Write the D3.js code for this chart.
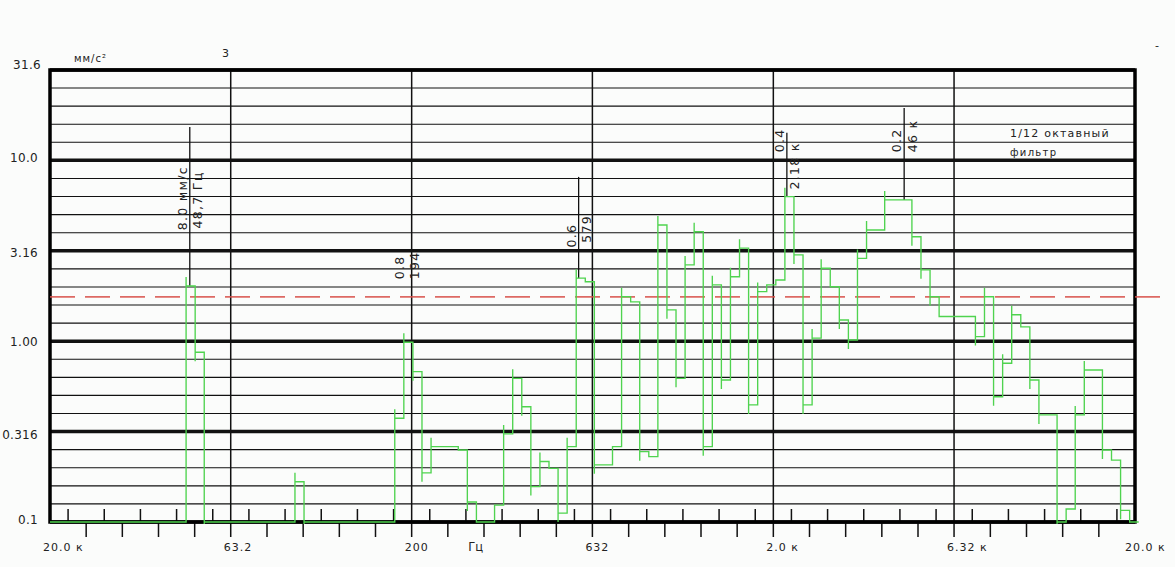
<!DOCTYPE html>
<html>
<head>
<meta charset="utf-8">
<script src="https://cdn.jsdelivr.net/npm/d3@7"></script>
<style>
  body { margin: 0; background: #fbfcfb; }
  svg { display: block; }
  text { font-family: "DejaVu Sans", sans-serif; fill: #222; }
</style>
</head>
<body>
<div id="chart"></div>
<script>
// 1/12 octave band levels (mm/s²), band n covers 20*2^(n/12) .. 20*2^((n+1)/12) Hz
var bandLevels = [
  0.1, 0.1, 0.1, 0.1, 0.1, 0.1, 0.1, 0.1, 0.1, 0.1,      // 0-9
  0.1, 0.1, 0.1, 0.1, 0.1, 2.02, 0.868, 0.1, 0.1, 0.1,   // 10-19
  0.1, 0.1, 0.1, 0.1, 0.1, 0.1, 0.1, 0.167, 0.1, 0.1,    // 20-29
  0.1, 0.1, 0.1, 0.1, 0.1, 0.1, 0.1, 0.1, 0.375, 0.986,  // 30-39
  0.678, 0.187, 0.261, 0.261, 0.261, 0.25, 0.129, 0.1, 0.1, 0.124, // 40-49
  0.307, 0.623, 0.434, 0.157, 0.216, 0.198, 0.112, 0.261, 2.23, 2.13, // 50-59
  0.207, 0.207, 0.261, 1.76, 1.65, 0.245, 0.23, 4.39, 1.49, 0.623,    // 60-69
  2.64, 4.03, 0.261, 2.05, 0.61, 2.27, 3.27, 0.444, 1.88, 2.05,       // 70-79
  2.18, 6.3, 3.0, 0.444, 1.04, 2.53, 2.0, 1.31, 1.015, 2.87,          // 80-89
  4.12, 4.12, 6.04, 6.04, 6.04, 3.78, 2.48, 1.76, 1.37, 1.37,         // 90-99
  1.37, 1.37, 1.06, 1.76, 0.493, 0.755, 1.4, 1.2, 0.61, 0.391,        // 100-109
  0.391, 0.1, 0.118, 0.391, 0.693, 0.693, 0.25, 0.22, 0.116, 0.1      // 110-119
];

var threshold = 1.76;

var yTickValues = [31.6, 10, 3.16, 1, 0.316, 0.1];
var yTickLabels = ["31.6", "10.0", "3.16", "1.00", "0.316", "0.1"];

var xTickValues = [20, 63.2, 200, 632, 2000, 6320, 20000];
var xTickLabels = ["20.0 к", "63.2", "200", "632", "2.0 к", "6.32 к", "20.0 к"];

// peak markers
var peakFreqs = [48.7, 194, 579, 2180, 4600];
var peakValueLabels = ["8.0 мм/с", "0.8", "0.6", "0.4", "0.2"];
var peakFreqLabels = ["48,7 Гц", "194", "579", "2.18  к", "46 к"];
var peakLineTop = [15.3, null, 8.1, 14.2, 19.5];
var labelStart = [4.1, 2.2, 3.3, 11.1, 11.1];
var freqLabelStart = [4.2, 2.2, 3.5, 6.9, 11.1];

var svgWidth = 1175, svgHeight = 567;
var plot = { left: 50, right: 1135, top: 70, bottom: 522 };

var svg = d3.select("#chart").append("svg")
  .attr("width", svgWidth)
  .attr("height", svgHeight);

var x = d3.scaleLog().domain([20, 20000]).range([plot.left, plot.right]);
var y = d3.scaleLog().domain([0.1, 31.6]).range([plot.bottom, plot.top]);

// horizontal grid, 2 dB steps
var hLines = d3.range(0, 26).map(function(j) { return { v: 0.1 * Math.pow(10, j / 10), thick: j % 5 === 0 }; });
svg.append("g").selectAll("line")
  .data(hLines)
  .enter().append("line")
  .attr("x1", plot.left).attr("x2", plot.right)
  .attr("y1", d => y(d.v)).attr("y2", d => y(d.v))
  .attr("stroke", "#111")
  .attr("stroke-width", d => d.thick ? 3.5 : 1.1);

// small ticks every 1/20 decade, alternating inside/outside
var ticks = d3.range(1, 60).map(function(k) { return { f: 20 * Math.pow(10, k / 20), k: k }; });
svg.append("g").selectAll("line")
  .data(ticks.filter(d => d.k % 10 !== 0))
  .enter().append("line")
  .attr("x1", d => x(d.f)).attr("x2", d => x(d.f))
  .attr("y1", d => d.k % 2 ? plot.bottom - 13 : plot.bottom)
  .attr("y2", d => d.k % 2 ? plot.bottom : plot.bottom + 15)
  .attr("stroke", "#111")
  .attr("stroke-width", 1.5);

// vertical grid at half decades
svg.append("g").selectAll("line")
  .data(xTickValues.slice(1, -1))
  .enter().append("line")
  .attr("x1", d => x(d)).attr("x2", d => x(d))
  .attr("y1", plot.top).attr("y2", plot.bottom + 15)
  .attr("stroke", "#111")
  .attr("stroke-width", 1.5);

// frame
svg.append("rect")
  .attr("x", plot.left).attr("y", plot.top)
  .attr("width", plot.right - plot.left).attr("height", plot.bottom - plot.top)
  .attr("fill", "none")
  .attr("stroke", "#000")
  .attr("stroke-width", 3.5);

// threshold
svg.append("line")
  .attr("x1", plot.left).attr("x2", plot.right + 30)
  .attr("y1", y(threshold)).attr("y2", y(threshold))
  .attr("stroke", "#d8504a")
  .attr("stroke-width", 1.8)
  .attr("stroke-dasharray", "25,10")
  .attr("opacity", 0.85);

// peak marker lines
peakFreqs.forEach(function(f, i) {
  if (peakLineTop[i] == null) return;
  var n = Math.floor(12 * Math.log2(f / 20));
  svg.append("line")
    .attr("x1", x(f)).attr("x2", x(f))
    .attr("y1", y(peakLineTop[i])).attr("y2", y(bandLevels[n]))
    .attr("stroke", "#111")
    .attr("stroke-width", 1.3);
});

// spectrum step line
var edge = n => x(20 * Math.pow(2, n / 12));
var path = d3.path();
var over = 9;
path.moveTo(edge(0), y(bandLevels[0]));
bandLevels.forEach(function(v, n) {
  path.lineTo(edge(n + 1), y(v));
  if (n + 1 < bandLevels.length) {
    var y0 = y(v), y1 = y(bandLevels[n + 1]);
    if (Math.abs(y1 - y0) > 20) {
      var yo = Math.max(plot.top, Math.min(plot.bottom + 2, y1 + (y1 > y0 ? over : -over)));
      path.lineTo(edge(n + 1), yo);
    }
    path.lineTo(edge(n + 1), y1);
  }
});
svg.append("path")
  .attr("d", path.toString())
  .attr("fill", "none")
  .attr("stroke", "#4fd34f")
  .attr("stroke-width", 1.35);

// y labels
var yOffset = [-5, -3, 2, 1, 3, -2];
svg.append("g").selectAll("text")
  .data(yTickValues)
  .enter().append("text")
  .attr("x", (d, i) => i === 0 ? 41 : 38)
  .attr("y", (d, i) => y(d) + yOffset[i])
  .attr("dy", "0.35em")
  .attr("text-anchor", "end")
  .style("font-size", "12px")
  .style("letter-spacing", "0.3px")
  .text((d, i) => yTickLabels[i]);

// x labels
svg.append("g").selectAll("text")
  .data(xTickValues)
  .enter().append("text")
  .attr("x", (d, i) => x(d) - (i === xTickValues.length - 1 ? 10 : 7))
  .attr("y", 551)
  .style("font-size", "11px")
  .style("letter-spacing", "1px")
  .text((d, i) => xTickLabels[i]);

svg.append("text").attr("x", x(300) - 7).attr("y", 551)
  .style("font-size", "11.5px").text("Гц");

svg.append("text").attr("x", 74).attr("y", 62)
  .style("font-size", "10px").style("letter-spacing", "1px").text("мм/с²");
svg.append("text").attr("x", 222).attr("y", 57)
  .style("font-size", "11px").text("3");
svg.append("text").attr("x", 1155).attr("y", 49)
  .style("font-size", "11px").text("-");

svg.append("text").attr("x", 1010).attr("y", 137)
  .style("font-size", "11px").style("letter-spacing", "1.2px").text("1/12 октавный");
svg.append("text").attr("x", 1010).attr("y", 156)
  .style("font-size", "10px").style("letter-spacing", "1.3px").text("фильтр");

// peak labels, rotated
peakFreqs.forEach(function(f, i) {
  var px = x(f);
  svg.append("text")
    .attr("transform", "translate(" + (px - 3) + "," + y(labelStart[i]) + ") rotate(-90)")
    .style("font-size", "12.5px").style("letter-spacing", "1.3px")
    .text(peakValueLabels[i]);
  svg.append("text")
    .attr("transform", "translate(" + (px + 12.5) + "," + y(freqLabelStart[i]) + ") rotate(-90)")
    .style("font-size", "12.5px").style("letter-spacing", "1.3px")
    .text(peakFreqLabels[i]);
});
</script>
</body>
</html>
